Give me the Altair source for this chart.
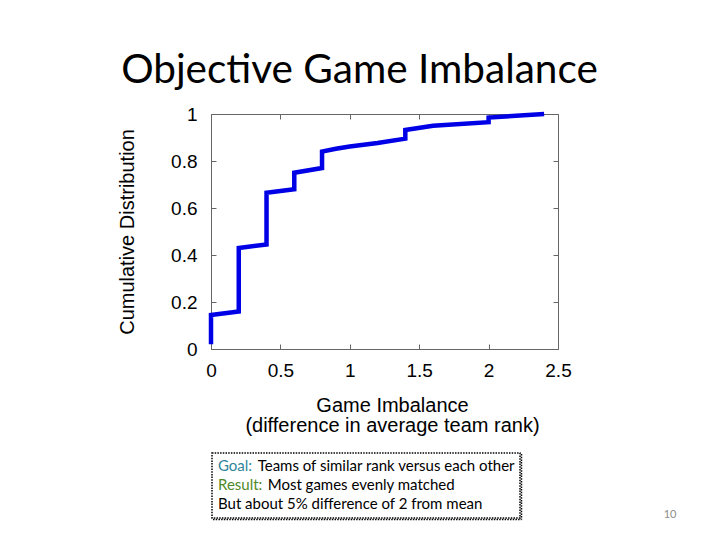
import altair as alt
import pandas as pd

# CDF of game imbalance
imbalance = [0, 0, 0.2, 0.2, 0.4, 0.4, 0.6, 0.6, 0.8, 0.8, 0.9, 1.0, 1.2, 1.4, 1.4, 1.6, 2.0, 2.0, 2.4]
cdf = [0.02, 0.145, 0.16, 0.43, 0.445, 0.665, 0.68, 0.75, 0.77, 0.84, 0.852, 0.862, 0.877, 0.895, 0.932, 0.95, 0.965, 0.985, 1.0]
x_ticks = [0, 0.5, 1, 1.5, 2, 2.5]
y_ticks = [0, 0.2, 0.4, 0.6, 0.8, 1]

title_text = "Objective Game Imbalance"
x_title = ["Game Imbalance", "(difference in average team rank)"]
y_title = "Cumulative Distribution"
goal_label = "Goal:"
goal_text = "Teams of similar rank versus each other"
result_label = "Result:"
result_text = "Most games evenly matched"
note_text = "But about 5% difference of 2 from mean"
page_no = "10"

df = pd.DataFrame({"x": imbalance, "y": cdf, "i": list(range(len(imbalance)))})

W, H = 347, 235
PLOT_FONT = "Liberation Sans"
SLIDE_FONT = "Lato"

xs = alt.Scale(domain=[0, 2.5], nice=False)
ys = alt.Scale(domain=[0, 1], nice=False)

base = alt.Chart(df)

line = base.mark_line(color="#0000e6", strokeWidth=4.5, strokeJoin="miter", clip=False).encode(
    x=alt.X("x:Q", scale=xs, axis=alt.Axis(
        orient="bottom", values=x_ticks, format="~g", offset=-5, tickSize=5, domain=False,
        grid=False, labelFlush=False, labelPadding=12, labelFont=PLOT_FONT, labelFontSize=19,
        labelColor="black", tickColor="#666", title=x_title, titleFont=PLOT_FONT,
        titleFontSize=20, titleFontWeight="normal", titleColor="black", titleX=181, titleY=51,
        titleBaseline="top", titleAlign="center", titleLineHeight=20.5, titleAnchor="start")),
    y=alt.Y("y:Q", scale=ys, axis=alt.Axis(
        orient="left", values=y_ticks, format="~g", offset=-5, tickSize=5, domain=False,
        grid=False, labelFlush=False, labelPadding=14, labelFont=PLOT_FONT, labelFontSize=19,
        labelColor="black", tickColor="#666", title=y_title, titleFont=PLOT_FONT,
        titleFontSize=20, titleFontWeight="normal", titleColor="black", titleX=-89, titleY=117.5,
        titleAngle=270, titleBaseline="middle", titleAlign="center", titleAnchor="start")),
    order="i:Q",
)

mirror = base.mark_line(strokeOpacity=0).encode(
    x=alt.X("x:Q", scale=xs, axis=alt.Axis(
        orient="top", values=x_ticks, offset=-5, tickSize=5, domain=False, grid=False,
        labels=False, tickColor="#666", title=None)),
    y=alt.Y("y:Q", scale=ys, axis=alt.Axis(
        orient="right", values=y_ticks, offset=-5, tickSize=5, domain=False, grid=False,
        labels=False, tickColor="#666", title=None)),
    order="i:Q",
)

def txt(s, x, y, size, color="black", font=SLIDE_FONT, align="left", baseline="middle"):
    return alt.Chart(pd.DataFrame({"t": [s]})).mark_text(
        font=font, fontSize=size, color=color, align=align, baseline=baseline
    ).encode(x=alt.value(x), y=alt.value(y), text="t:N")

title = txt(title_text, 148.5, -31, 40.5, align="center", baseline="alphabetic")

box = alt.Chart(pd.DataFrame({"a": [0]})).mark_rect(
    fill="white", stroke="black", strokeWidth=1.5, strokeDash=[1.5, 1.2]
).encode(x=alt.value(1), x2=alt.value(309), y=alt.value(339), y2=alt.value(404))

shadow_r = alt.Chart(pd.DataFrame({"a": [0]})).mark_rule(
    color="black", strokeWidth=1.5, strokeDash=[1.5, 1.2]
).encode(x=alt.value(310.5), y=alt.value(340), y2=alt.value(405.5))
shadow_b = alt.Chart(pd.DataFrame({"a": [0]})).mark_rule(
    color="black", strokeWidth=1.5, strokeDash=[1.5, 1.2]
).encode(x=alt.value(2), x2=alt.value(310.5), y=alt.value(405.5))

lines = [
    txt(goal_label, 7, 352, 15, color="#31859c"),
    txt(goal_text, 46.7, 352, 15),
    txt(result_label, 7, 371, 15, color="#4e8a2a"),
    txt(result_text, 56.7, 371, 15),
    txt(note_text, 7, 389.5, 15),
    txt(page_no, 459, 401, 11, color="#8c8c8c", align="center"),
]

chart = alt.layer(line, mirror, title, box, shadow_r, shadow_b, *lines).resolve_axis(
    x="independent", y="independent"
).properties(
    width=W, height=H,
    autosize=alt.AutoSizeParams(type="none"),
    padding={"left": 203, "top": 106, "right": 154, "bottom": 183},
    background="white",
).configure_view(stroke="#666", strokeWidth=1)

chart.save("out.html", embed_options={"renderer": "svg", "actions": False})
